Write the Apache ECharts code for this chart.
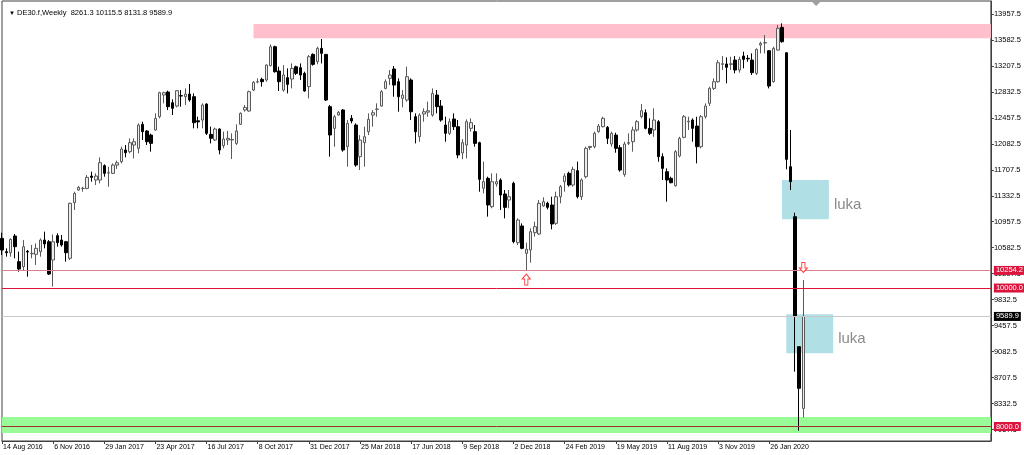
<!DOCTYPE html>
<html><head><meta charset="utf-8">
<script src="https://cdn.jsdelivr.net/npm/echarts@6/dist/echarts.min.js"></script>
<style>html,body{margin:0;padding:0;background:#fff}#c{width:1024px;height:455px}</style>
</head><body><div id="c"></div>
<script>
// ---- data (weekly bars from 14 Aug 2016) ----
const opens = [10717,10525,10510,10751,10381,10308,10530,10495,10486,10525,10693,10669,10405,10756,10693,10669,10429,11233,11415,11437,
11439,11617,11560,11560,11767,11660,11656,11776,11824,11993,11969,12065,12017,12363,12267,12209,12282,12474,12787,12830,
12676,12628,12778,12763,12801,12763,12415,12426,12657,12219,12138,12296,12056,12138,12138,12089,12364,12571,12556,12859,
12975,13013,13004,13211,13485,13134,12859,13038,13018,13196,13182,13100,12908,13374,13269,13461,13374,12619,12306,12499,
12571,12041,12450,12354,11897,12100,12258,12498,12580,12628,12883,13028,13163,12980,12739,12715,13004,12474,12185,12513,
12540,12498,12787,12628,12354,12234,12441,12330,11950,12065,12306,12258,12099,11440,11584,11175,11502,11560,11358,11271,
11512,10655,10896,10501,10549,10800,10780,11185,11223,11199,10934,11319,11536,11656,11488,11695,11319,11608,12030,12041,
12258,12330,12320,12080,12209,12027,11640,12090,12113,12282,12474,12532,12306,12282,12402,11897,11680,11584,11478,11906,
12176,12400,12426,12339,12041,12474,12667,12883,12980,13230,13235,13230,13292,13148,13350,13317,13292,13100,13509,13540,
13427,12980,13437,13764,13398,11752,11030,9153,8261.3];
const highs = [10799,10573,10717,10780,10525,10693,10549,10621,10645,10717,10814,10693,10775,10790,10766,10680,11233,11391,11473,11463,
11632,11680,11656,11887,11786,11752,11800,11840,12041,12065,12161,12161,12378,12402,12282,12230,12522,12835,12835,12850,
12724,12859,12859,12883,12946,12811,12474,12667,12667,12330,12316,12306,12258,12268,12234,12364,12537,12643,12850,12989,
13028,13038,13230,13519,13500,13196,13220,13172,13244,13211,13244,13124,13365,13389,13485,13596,13380,12643,12499,12556,
12585,12426,12498,12378,12209,12330,12522,12570,12667,12859,13013,13148,13206,13028,12859,13196,13028,12522,12522,12595,
12691,12883,12859,12715,12474,12450,12522,12426,12150,12436,12450,12354,12113,11825,11608,11656,11656,11584,11416,11416,
11536,11006,10934,10655,10862,10958,11271,11310,11247,11319,11391,11488,11656,11680,11752,11825,11584,12041,12051,12258,
12368,12474,12339,12258,12243,12065,12113,12234,12330,12426,12657,12580,12450,12595,12426,11945,11728,11608,11993,12185,
12498,12474,12450,12474,12498,12667,12907,13028,13292,13350,13331,13340,13350,13340,13413,13365,13389,13461,13557,13653,
13437,13485,13798,13822,13398,12282,11088,9153,10115.5];
const lows = [10477,10453,10453,10429,10236,10260,10164,10429,10332,10453,10573,10188,10020,10597,10597,10381,10405,11127,11406,11391,
11425,11536,11488,11512,11608,11463,11646,11720,11800,11887,11945,11872,11945,12137,12065,11969,12272,12450,12667,12570,
12498,12609,12619,12643,12691,12306,12306,12306,12210,12089,12123,11931,12017,12065,11863,12065,12354,12547,12547,12845,
12956,12908,12980,13201,13110,12845,12835,12811,12883,13076,13004,12835,12739,13211,13230,13244,12701,11897,12041,12489,
11969,11752,12378,11752,11704,11752,12209,12330,12474,12619,12869,12931,12763,12546,12609,12691,12426,12089,12113,12402,
12474,12474,12522,12402,12113,12209,12282,11873,11860,11873,12258,12041,11391,11367,11031,11151,11464,11127,11006,11151,
10646,10621,10559,10254.2,10366,10742,10766,11175,11136,10848,10910,11223,11391,11464,11464,11295,11271,11584,11993,12017,
12243,12320,12080,12041,11954,11680,11608,12065,11969,12258,12450,12291,12209,12185,11824,11560,11247,11512,11464,11887,
12161,12282,12113,11800,12017,12450,12628,12859,12965,13148,12956,13148,13100,13110,13172,13268,13076,13076,13389,13389,
12883,12965,13427,13543,11714,11416,8792,7940,8131.8];
const closes = [10549,10510,10703,10597,10275,10597,10520,10501,10573,10693,10636,10202,10669,10655,10621,10510,11223,11367,11454,11440,
11598,11598,11617,11810,11656,11666,11776,11810,12007,11954,12099,12113,12354,12258,12113,12089,12450,12821,12821,12619,
12595,12850,12773,12801,12715,12388,12400,12643,12234,12162,12296,11993,12152,12162,12145,12268,12523,12609,12835,12970,
12980,12980,13220,13485,13124,12980,13076,12941,13172,13100,13076,12845,13341,13230,13461,13389,12715,12210,12474,12537,
11993,12378,12412,11776,12137,12185,12436,12532,12585,12835,12980,13076,12931,12763,12787,13052,12546,12258,12498,12546,
12560,12811,12619,12426,12234,12402,12330,11921,12100,12402,12388,12089,11570,11536,11199,11536,11536,11343,11165,11319,
10670,10982,10573,10559,10814,10886,11223,11247,11165,10925,11319,11464,11618,11488,11714,11319,11560,12017,12045,12234,
12339,12450,12161,12234,12017,11704,12080,12100,12282,12402,12561,12306,12234,12426,11897,11728,11560,11521,11969,12161,
12474,12410,12306,12041,12474,12628,12883,12980,13254,13240,13187,13238,13148,13302,13302,13310,13110,13446,13533,13545,
12917,13461,13750,13557,11858,11536,9596,8552,9589.9];

const firstWeekUTC = Date.UTC(2016, 7, 14);
const slotCount = 233;
const xTickLabels = ['14 Aug 2016','6 Nov 2016','29 Jan 2017','23 Apr 2017','16 Jul 2017','8 Oct 2017','31 Dec 2017','25 Mar 2018',
  '17 Jun 2018','9 Sep 2018','2 Dec 2018','24 Feb 2019','19 May 2019','11 Aug 2019','3 Nov 2019','26 Jan 2020'];
const yTickValues = [13957.5,13582.5,13207.5,12832.5,12457.5,12082.5,11707.5,11332.5,10957.5,10582.5,10207.5,9832.5,9457.5,9082.5,8707.5,8332.5,7957.5];

// annotation levels
const resistanceZone = [13606, 13812];
const supportZone = [7906, 8137.5];
const gapZones = [{from: 183, to: 194, low: 10992, high: 11560, label: 'luka'},
                  {from: 184, to: 195, low: 9057, high: 9620, label: 'luka'}];
const hLevels = [{v: 10254.2, color: '#d8808c', tag: '#dc143c'},
                 {v: 10000.0, color: '#dc143c', tag: '#dc143c'},
                 {v: 9589.9, color: '#c8c8c8', tag: '#000000'},
                 {v: 8000.0, color: '#a03030', tag: '#dc143c'}];
const arrowUp = {bar: 123, v: 10123};
const arrowDown = {bar: 188, v: 10296};
const chartShiftBar = 191;

// ---- build ----
const months = ['Jan','Feb','Mar','Apr','May','Jun','Jul','Aug','Sep','Oct','Nov','Dec'];
const categories = [];
for (let i = 0; i < slotCount; i++) {
  const d = new Date(firstWeekUTC + i * 7 * 86400000);
  categories.push(d.getUTCDate() + ' ' + months[d.getUTCMonth()] + ' ' + d.getUTCFullYear());
}
const candles = opens.map((o, i) => [o, closes[i], lows[i], highs[i]]);
const last = opens.length - 1;
const FONT = 'Liberation Sans';
const tickShown = (idx) => idx % 12 === 0 && idx / 12 < xTickLabels.length;

const upPath = 'path://M4,0 L8,4.5 L5.6,4.5 L5.6,10 L2.4,10 L2.4,4.5 L0,4.5 Z';
const downPath = 'path://M2.4,0 L5.6,0 L5.6,5.5 L8,5.5 L4,10 L0,5.5 L2.4,5.5 Z';
const shiftPath = 'path://M0,0 L8,0 L4,4 Z';

const chart = echarts.init(document.getElementById('c'), null, {renderer: 'canvas'});
chart.setOption({
  animation: false,
  backgroundColor: '#fff',
  title: {
    text: '{t|▼} DE30.f,Weekly  ' + opens[last].toFixed(1) + ' ' + highs[last].toFixed(1) + ' ' + lows[last].toFixed(1) + ' ' + closes[last].toFixed(1),
    left: 4, top: 4,
    textStyle: {fontFamily: FONT, fontSize: 7.5, fontWeight: 'normal', color: '#000',
      rich: {t: {fontSize: 6, color: '#000', fontFamily: FONT}}}
  },
  grid: {left: 2, right: 33, top: 1, bottom: 14, show: true, borderColor: '#404040', borderWidth: 1},
  xAxis: {
    type: 'category', data: categories, boundaryGap: false,
    axisLine: {lineStyle: {color: '#404040'}},
    axisTick: {interval: tickShown, length: 3, lineStyle: {color: '#404040'}},
    axisLabel: {interval: tickShown, formatter: (v, idx) => xTickLabels[idx / 12] || '',
      align: 'left', margin: 3, fontFamily: FONT, fontSize: 7, color: '#000', padding: [0,0,0,1]},
    splitLine: {show: false}
  },
  yAxis: {
    type: 'value', position: 'right', min: 7791, max: 14145, scale: true,
    axisLine: {show: true, lineStyle: {color: '#404040'}},
    axisTick: {show: true, customValues: yTickValues, length: 3, lineStyle: {color: '#404040'}},
    axisLabel: {customValues: yTickValues, formatter: v => v.toFixed(1), margin: 3,
      fontFamily: FONT, fontSize: 7.5, color: '#000'},
    splitLine: {show: false}
  },
  series: [{
    type: 'candlestick', data: candles, barWidth: 3,
    itemStyle: {color: '#ececec', borderColor: '#5a5a5a', color0: '#000', borderColor0: '#000', borderWidth: 1},
    markArea: {
      silent: true,
      data: [
        [{xAxis: 59, yAxis: resistanceZone[1], itemStyle: {color: '#ffc0cb'}}, {xAxis: slotCount - 1, yAxis: resistanceZone[0]}],
        [{xAxis: 0, yAxis: supportZone[1], itemStyle: {color: '#98fb98'}}, {xAxis: slotCount - 1, yAxis: supportZone[0]}],
        ...gapZones.map(z => [{xAxis: z.from, yAxis: z.high, name: z.label, itemStyle: {color: '#b0e0e6'},
            label: {show: true, position: 'right', distance: 5, offset: [0, 5], color: '#8a8a8a', fontSize: 15, fontFamily: FONT}},
          {xAxis: z.to, yAxis: z.low}])
      ]
    },
    markLine: {
      silent: true, symbol: 'none',
      data: hLevels.map(l => ({yAxis: l.v, lineStyle: {color: l.color, width: 1, type: 'solid'},
        label: {show: true, position: 'end', distance: 3, formatter: l.v.toFixed(1), color: '#fff',
          backgroundColor: l.tag, padding: [1, 2, 0, 2], fontFamily: FONT, fontSize: 7.5}}))
    },
    markPoint: {
      silent: true,
      data: [
        {coord: [arrowUp.bar, arrowUp.v], symbol: upPath, symbolSize: [8, 11],
          itemStyle: {color: '#fff', borderColor: '#ff4040', borderWidth: 1}, label: {show: false}},
        {coord: [arrowDown.bar, arrowDown.v], symbol: downPath, symbolSize: [8, 10],
          itemStyle: {color: '#fff', borderColor: '#ff4040', borderWidth: 1}, label: {show: false}},
        {coord: [chartShiftBar, 14100], symbol: shiftPath, symbolSize: [8, 4],
          itemStyle: {color: '#a0a0a0'}, label: {show: false}}
      ]
    }
  }]
});
</script></body></html>
